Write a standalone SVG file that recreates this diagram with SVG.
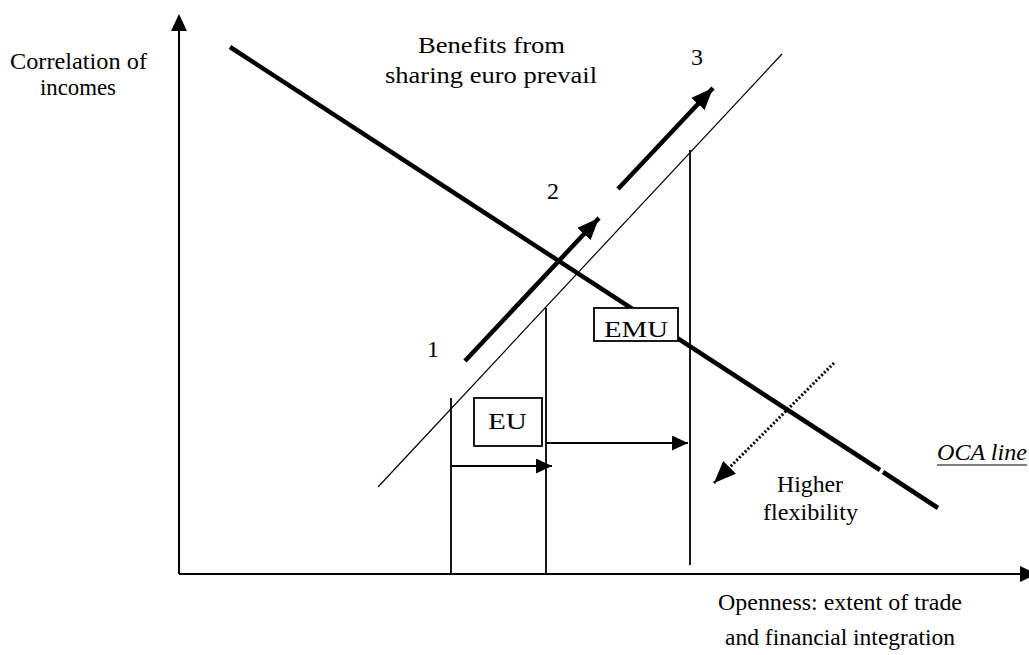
<svg xmlns="http://www.w3.org/2000/svg" width="1029" height="655" viewBox="0 0 1029 655">
<style>
text{font-family:"Liberation Serif","Times New Roman",serif;font-size:24px;fill:#000}
.c{text-anchor:middle}
.ax{stroke:#000;stroke-width:2;fill:none}
.thick{stroke:#000;stroke-width:4.5;fill:none}
.thin{stroke:#000;stroke-width:1.2;fill:none}
.vl{stroke:#000;stroke-width:1.8;fill:none}
.box{fill:#fff;stroke:#000;stroke-width:1.8}
</style>
<defs>
<marker id="big" markerUnits="userSpaceOnUse" viewBox="0 0 22 18" refX="22" refY="9" markerWidth="22" markerHeight="18" orient="auto"><path d="M0,0 L22,9 L0,18 Z" fill="#000"/></marker>
<marker id="small" markerUnits="userSpaceOnUse" viewBox="0 0 16 15" refX="16" refY="7.5" markerWidth="16" markerHeight="15" orient="auto"><path d="M0,0 L16,7.5 L0,15 Z" fill="#000"/></marker>
</defs>
<rect width="1029" height="655" fill="#fff"/>
<g id="axes">
<line class="ax" x1="179" y1="574" x2="179" y2="28"/>
<polygon points="179,14 171,31 187,31" fill="#000"/>
<line class="ax" x1="179" y1="574" x2="1022" y2="574"/>
<polygon points="1037,574 1020,566 1020,582" fill="#000"/>
</g>
<g id="connectors">
<line class="thin" x1="378" y1="487" x2="782" y2="54"/>
<line class="thick" x1="230" y1="47" x2="880" y2="470"/>
<line class="thick" x1="883" y1="472" x2="938" y2="508"/>
<line class="thick" x1="465" y1="361" x2="599" y2="218" marker-end="url(#big)"/>
<line class="thick" x1="618" y1="189" x2="713" y2="88" marker-end="url(#big)"/>
<line class="vl" x1="451" y1="398" x2="451" y2="574"/>
<line class="vl" x1="546" y1="308" x2="546" y2="574"/>
<line class="vl" x1="690" y1="150" x2="690" y2="565"/>
<line class="vl" x1="451" y1="466" x2="552" y2="466" marker-end="url(#small)"/>
<line class="vl" x1="546" y1="443" x2="688" y2="443" marker-end="url(#small)"/>
<line x1="834" y1="363" x2="714" y2="483" stroke="#000" stroke-width="3" stroke-dasharray="2,2" marker-end="url(#big)"/>
</g>
<g id="node-EMU">
<rect class="box" x="594" y="308" width="84" height="33"/>
<text x="604" y="337" font-size="26" textLength="64" lengthAdjust="spacingAndGlyphs">EMU</text>
</g>
<g id="node-EU">
<rect class="box" x="474" y="398" width="68" height="48"/>
<text x="488" y="429" font-size="28" textLength="39" lengthAdjust="spacingAndGlyphs">EU</text>
</g>
<g id="labels">
<text x="10" y="69" textLength="137" lengthAdjust="spacingAndGlyphs">Correlation of</text>
<text x="40" y="95" textLength="76" lengthAdjust="spacingAndGlyphs">incomes</text>
<text x="418" y="53" font-size="25" textLength="147" lengthAdjust="spacingAndGlyphs">Benefits from</text>
<text x="385" y="83" font-size="25" textLength="212" lengthAdjust="spacingAndGlyphs">sharing euro prevail</text>
<text class="c" x="433" y="357" font-size="26">1</text>
<text class="c" x="553" y="199" font-size="26">2</text>
<text class="c" x="697" y="65" font-size="26">3</text>
<text x="777" y="492" textLength="66" lengthAdjust="spacingAndGlyphs">Higher</text>
<text x="763" y="520" textLength="95" lengthAdjust="spacingAndGlyphs">flexibility</text>
<text x="937" y="460" font-style="italic" textLength="90" lengthAdjust="spacingAndGlyphs">OCA line</text>
<line x1="937" y1="465" x2="1027" y2="465" stroke="#000" stroke-width="1.2"/>
<text x="718" y="610" textLength="244" lengthAdjust="spacingAndGlyphs">Openness: extent of trade</text>
<text x="725" y="645" textLength="230" lengthAdjust="spacingAndGlyphs">and financial integration</text>
</g>
</svg>
